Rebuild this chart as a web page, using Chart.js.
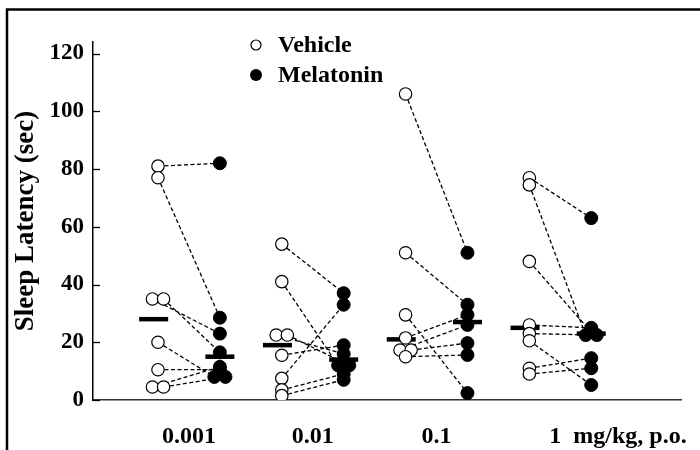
<!DOCTYPE html>
<html>
<head>
<meta charset="utf-8">
<script src="https://cdn.jsdelivr.net/npm/chart.js@4.4.0/dist/chart.umd.min.js"></script>
<style>
  html, body { margin: 0; padding: 0; background: #ffffff; }
  #wrap { width: 700px; height: 450px; }
</style>
</head>
<body>
<div id="wrap"><canvas id="c" width="700" height="450"></canvas></div>
<script>
// ---- Data ----
const doseLabels = ['0.001', '0.01', '0.1', '1'];
const unitLabel = 'mg/kg, p.o.';
const seriesNames = ['Vehicle', 'Melatonin'];
const yTickValues = [0, 20, 40, 60, 80, 100, 120];
const yAxisTitle = 'Sleep Latency (sec)';

// paired per subject: vehicle[g][i] -> melatonin[g][i]
const vehicleValues = [
  [81, 77, 35, 35, 20, 10.5, 4.5, 4.5],
  [54, 41, 22.5, 22.5, 15.5, 7.5, 3.5, 1.5],
  [106, 51, 29.5, 21.5, 17.3, 17.3, 15],
  [77, 74.5, 48, 26, 23, 20.5, 11, 9]
];
const melatoninValues = [
  [82, 28.5, 23, 16.5, 8, 10.5, 11.5, 8],
  [37, 12, 16, 12, 19, 33, 9, 7],
  [51, 33, 2.4, 29.5, 26, 19.7, 15.6],
  [63, 22.5, 23.5, 25, 22.5, 5.2, 14.5, 11]
];
const vehicleMean = [28, 19, 21, 25];
const melatoninMean = [15, 14, 27, 23];

// ---- Build datasets ----
const FONT = "'Liberation Serif', 'Times New Roman', serif";

function dodge(values, base) {
  // spread identical values side by side within a column
  const xs = values.map(() => base);
  const used = new Array(values.length).fill(false);
  for (let i = 0; i < values.length; i++) {
    if (used[i]) continue;
    const idx = [i];
    for (let j = i + 1; j < values.length; j++) {
      if (!used[j] && Math.abs(values[j] - values[i]) < 0.3) idx.push(j);
    }
    idx.forEach((k, n) => { used[k] = true; xs[k] = base + (n - (idx.length - 1) / 2) * 0.18; });
  }
  return xs;
}

const vehPts = [], melPts = [], linkPts = [], meanVeh = [], meanMel = [];
doseLabels.forEach((d, g) => {
  const vx = dodge(vehicleValues[g], 2 * g);
  const mx = dodge(melatoninValues[g], 2 * g + 1);
  vehicleValues[g].forEach((v, i) => {
    vehPts.push({ x: vx[i], y: v });
    melPts.push({ x: mx[i], y: melatoninValues[g][i] });
    linkPts.push({ x: vx[i], y: v });
    linkPts.push({ x: mx[i], y: melatoninValues[g][i] });
    linkPts.push({ x: mx[i], y: null });
  });
  meanVeh.push({ x: 2 * g - 0.07, y: vehicleMean[g] });
  meanMel.push({ x: 2 * g + 1, y: melatoninMean[g] });
});

const extras = {
  id: 'extras',
  afterDraw(chart) {
    const ctx = chart.ctx;
    const ys = chart.scales.y, xs = chart.scales.x;
    const area = chart.chartArea;
    ctx.save();
    // outer frame (left/top edges visible)
    ctx.strokeStyle = '#000'; ctx.lineWidth = 2.5;
    ctx.beginPath(); ctx.moveTo(7, 460); ctx.lineTo(7, 9.5); ctx.lineTo(710, 9.5); ctx.stroke();
    // inward tick marks on y axis
    ctx.lineWidth = 1.3;
    yTickValues.forEach(v => {
      const p = Math.round(ys.getPixelForValue(v)) + 0.5;
      ctx.beginPath(); ctx.moveTo(area.left, p); ctx.lineTo(area.left + 7, p); ctx.stroke();
    });
    // x labels
    ctx.fillStyle = '#000';
    ctx.font = 'bold 24px ' + FONT;
    ctx.textBaseline = 'middle';
    doseLabels.forEach((lab, g) => {
      const px = xs.getPixelForValue(2 * g + 0.5);
      if (g === doseLabels.length - 1) {
        ctx.textAlign = 'center';
        ctx.fillText(lab, px - 5, 437);
        ctx.textAlign = 'left';
        ctx.fillText(unitLabel, px + 13, 437);
      } else {
        ctx.textAlign = 'center';
        ctx.fillText(lab, px, 437);
      }
    });
    // legend
    ctx.font = 'bold 24px ' + FONT;
    ctx.textAlign = 'left';
    ctx.textBaseline = 'alphabetic';
    ctx.lineWidth = 1.2;
    ctx.beginPath(); ctx.arc(256, 45, 5, 0, Math.PI * 2);
    ctx.fillStyle = '#fff'; ctx.fill(); ctx.strokeStyle = '#000'; ctx.stroke();
    ctx.fillStyle = '#000';
    ctx.fillText(seriesNames[0], 278, 52);
    ctx.beginPath(); ctx.arc(256, 75, 6, 0, Math.PI * 2); ctx.fill();
    ctx.fillText(seriesNames[1], 278, 82);
    ctx.restore();
  }
};

new Chart(document.getElementById('c'), {
  type: 'scatter',
  data: {
    datasets: [
      {
        label: seriesNames[0], data: vehPts, order: 0,
        pointRadius: 6.2, pointHoverRadius: 6.2, pointBackgroundColor: '#fff',
        pointBorderColor: '#000', pointBorderWidth: 1.2
      },
      {
        label: seriesNames[1], data: melPts, order: 0,
        pointRadius: 6.5, pointHoverRadius: 6.5, pointBackgroundColor: '#000',
        pointBorderColor: '#000', pointBorderWidth: 1
      },
      {
        label: 'mean', data: meanVeh.concat(meanMel), order: 1,
        pointStyle: 'line', pointRadius: 14.5, pointHoverRadius: 14.5,
        pointBorderColor: '#000', pointBorderWidth: 4.5, pointRotation: 0
      },
      {
        label: 'pairs', data: linkPts, order: 2, showLine: true, spanGaps: false,
        borderColor: '#000', borderWidth: 1.3, borderDash: [4, 2.5], pointRadius: 0,
        pointHoverRadius: 0, tension: 0
      }
    ]
  },
  options: {
    responsive: false,
    animation: false,
    events: [],
    layout: { padding: { left: 0, top: 42, right: 10, bottom: 0 } },
    plugins: { legend: { display: false }, tooltip: { enabled: false } },
    scales: {
      x: {
        type: 'linear', min: -1.05, max: 8.45,
        grid: { display: false, drawTicks: false },
        border: { display: true, color: '#333', width: 1.5 },
        ticks: { display: false },
        afterFit(s) { s.height = 50; }
      },
      y: {
        type: 'linear', min: 0, max: 124,
        afterBuildTicks(s) { s.ticks = yTickValues.map(v => ({ value: v })); },
        grid: { display: false, drawTicks: false },
        border: { display: true, color: '#000', width: 1.5 },
        ticks: {
          padding: 9, color: '#000',
          font: { family: FONT, size: 23, weight: 'bold' }
        },
        title: {
          display: true, text: yAxisTitle, color: '#000',
          font: { family: FONT, size: 27, weight: 'bold' },
          padding: { top: 10, bottom: 0 }
        },
        afterFit(s) { s.width = 93; }
      }
    }
  },
  plugins: [extras]
});
</script>
</body>
</html>
